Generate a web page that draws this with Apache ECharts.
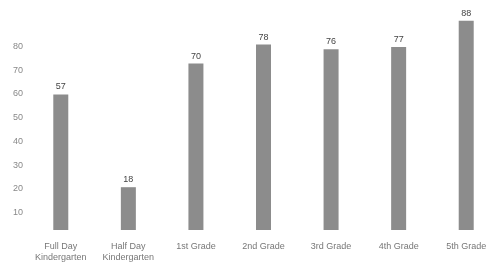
<!DOCTYPE html>
<html><head><meta charset="utf-8">
<script src="https://cdn.jsdelivr.net/npm/echarts@6/dist/echarts.min.js"></script>
<style>html,body{margin:0;padding:0;background:#fff;overflow:hidden}#c{width:500px;height:266px}</style>
</head><body><div id="c"></div>
<script>
var categories = ["Full Day\nKindergarten", "Half Day\nKindergarten", "1st Grade", "2nd Grade", "3rd Grade", "4th Grade", "5th Grade"];
var values = [57, 18, 70, 78, 76, 77, 88];
var yTicks = [10, 20, 30, 40, 50, 60, 70, 80];
var chart = echarts.init(document.getElementById('c'), null, {renderer: 'canvas'});
chart.setOption({
  animation: false,
  grid: {left: 27, right: 0, top: 16, bottom: 36, containLabel: false},
  xAxis: {
    type: 'category', data: categories,
    axisLine: {show: false}, axisTick: {show: false},
    axisLabel: {color: '#777', fontSize: 9, fontFamily: 'Liberation Sans, Arial', lineHeight: 11, margin: 11, interval: 0}
  },
  yAxis: {
    type: 'value', min: 0, max: 90, interval: 10,
    splitLine: {show: false}, axisLine: {show: false}, axisTick: {show: false},
    axisLabel: {
      color: '#888', fontSize: 9, fontFamily: 'Liberation Sans, Arial', margin: 4,
      verticalAlign: 'top', padding: [2, 0, 0, 0],
      formatter: function (v) { return yTicks.indexOf(v) >= 0 ? String(v) : ''; }
    }
  },
  series: [{
    type: 'bar', data: values, barWidth: 15,
    itemStyle: {color: '#8c8c8c'},
    label: {show: true, position: 'top', color: '#444', fontSize: 9, fontFamily: 'Liberation Sans, Arial', distance: 3}
  }]
});
</script></body></html>
